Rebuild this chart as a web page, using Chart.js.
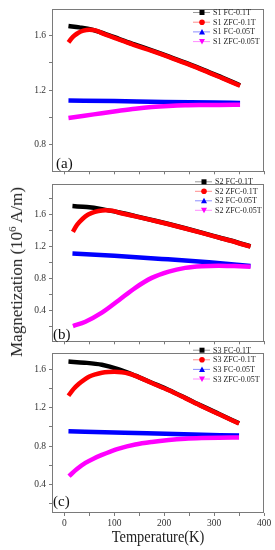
<!DOCTYPE html>
<html>
<head>
<meta charset="utf-8">
<script src="https://cdn.jsdelivr.net/npm/chart.js@4.4.0/dist/chart.umd.min.js"></script>
<style>
html,body{margin:0;padding:0;background:#fff;width:275px;height:550px;overflow:hidden;}
.cv{position:absolute;left:0;width:275px;}
#ytitle{position:absolute;left:17px;top:272px;font-family:"Liberation Serif","Times New Roman",serif;font-size:17px;color:#222;white-space:nowrap;transform:translate(-50%,-50%) rotate(-90deg);}
#ytitle sup{font-size:11px;vertical-align:6px;line-height:0;}
#xtitle{position:absolute;left:158px;top:537px;font-family:"Liberation Serif","Times New Roman",serif;font-size:16px;color:#222;white-space:nowrap;transform:translate(-50%,-50%) scaleX(0.9);}
</style>
</head>
<body>
<div class="cv" style="top:0px;height:180px;"><canvas id="cA" width="275" height="180"></canvas></div>
<div class="cv" style="top:175px;height:175px;"><canvas id="cB" width="275" height="175"></canvas></div>
<div class="cv" style="top:344px;height:206px;"><canvas id="cC" width="275" height="206"></canvas></div>
<div id="ytitle">Magnetization (10<sup>6</sup> A/m)</div>
<div id="xtitle">Temperature(K)</div>
<script>
// ---------- tick labels ----------
const xMajor = [0, 100, 200, 300, 400];
const xMinor = [50, 150, 250, 350];
const yMajorA = [0.8, 1.2, 1.6];
const yMinorA = [1.0, 1.4];
const yMajorB = [0.4, 0.8, 1.2, 1.6];
const yMinorB = [0.2, 0.6, 1.0, 1.4, 1.8];
const yMajorC = [0.4, 0.8, 1.2, 1.6];
const yMinorC = [0.2, 0.6, 1.0, 1.4];

// ---------- series names ----------
const namesA = ["S1 FC-0.1T", "S1 ZFC-0.1T", "S1 FC-0.05T", "S1 ZFC-0.05T"];
const namesB = ["S2 FC-0.1T", "S2 ZFC-0.1T", "S2 FC-0.05T", "S2 ZFC-0.05T"];
const namesC = ["S3 FC-0.1T", "S3 ZFC-0.1T", "S3 FC-0.05T", "S3 ZFC-0.05T"];

// ---------- panel (a) S1 ----------
const tA_fc1  = [8, 30, 55, 80, 110, 140, 175, 210, 245, 280, 315, 352];
const mA_fc1  = [1.672, 1.662, 1.646, 1.616, 1.576, 1.536, 1.493, 1.447, 1.398, 1.347, 1.293, 1.235];
const tA_zfc1 = [8, 14, 20, 28, 38, 50, 62, 80, 110, 140, 175, 210, 245, 280, 315, 352];
const mA_zfc1 = [1.551, 1.580, 1.602, 1.623, 1.638, 1.644, 1.640, 1.612, 1.572, 1.532, 1.489, 1.443, 1.394, 1.343, 1.289, 1.231];
const tA_fc05  = [8, 100, 200, 300, 352];
const mA_fc05  = [1.123, 1.118, 1.112, 1.107, 1.104];
const tA_zfc05 = [8, 40, 75, 110, 142, 175, 209, 242, 275, 310, 352];
const mA_zfc05 = [0.994, 1.010, 1.029, 1.047, 1.062, 1.074, 1.082, 1.087, 1.089, 1.090, 1.091];

// ---------- panel (b) S2 ----------
const tB_fc1  = [16, 45, 75, 110, 142, 175, 209, 242, 275, 310, 345, 373];
const mB_fc1  = [1.700, 1.688, 1.662, 1.620, 1.575, 1.527, 1.476, 1.423, 1.368, 1.308, 1.248, 1.196];
const tB_zfc1 = [17, 23, 30, 42, 55, 68, 82, 96, 110, 142, 175, 209, 242, 275, 310, 345, 373];
const mB_zfc1 = [1.378, 1.445, 1.500, 1.572, 1.615, 1.638, 1.648, 1.641, 1.617, 1.572, 1.524, 1.473, 1.420, 1.365, 1.305, 1.245, 1.193];
const tB_fc05  = [16, 100, 195, 290, 373];
const mB_fc05  = [1.107, 1.078, 1.040, 0.998, 0.952];
const tB_zfc05 = [17, 42, 75, 109, 142, 175, 209, 242, 275, 309, 340, 373];
const mB_zfc05 = [0.200, 0.255, 0.368, 0.524, 0.679, 0.803, 0.882, 0.928, 0.949, 0.955, 0.950, 0.942];

// ---------- panel (c) S3 ----------
const tC_fc1  = [8, 40, 75, 109, 142, 175, 209, 242, 275, 310, 350];
const mC_fc1  = [1.683, 1.672, 1.650, 1.602, 1.536, 1.462, 1.386, 1.304, 1.220, 1.135, 1.038];
const tC_zfc1 = [8, 18, 29, 40, 50, 62, 75, 88, 100, 115, 130, 142, 175, 209, 242, 275, 310, 350];
const mC_zfc1 = [1.326, 1.395, 1.451, 1.495, 1.527, 1.550, 1.567, 1.575, 1.577, 1.572, 1.556, 1.534, 1.459, 1.383, 1.301, 1.217, 1.132, 1.035];
const tC_fc05  = [8, 120, 240, 350];
const mC_fc05  = [0.955, 0.940, 0.924, 0.909];
const tC_zfc05 = [9, 25, 42, 58, 75, 92, 109, 142, 175, 209, 242, 275, 310, 350];
const mC_zfc05 = [0.485, 0.560, 0.624, 0.668, 0.707, 0.742, 0.773, 0.816, 0.843, 0.863, 0.876, 0.883, 0.887, 0.889];

// ---------- styling ----------
const colors = ["#000000", "#ff0000", "#0000ff", "#ff00ff"];
const legendLine = ["#9a9a9a", "#ff8c8c", "#8c8cff", "#ff8cff"];
const markers = ["square", "circle", "triangle", "down"];
const order = [2, 1, 4, 3];
const SERIF = '"Liberation Serif","Times New Roman",serif';
const FRAME = "#7a7a7a";

function pts(t, m) { return t.map((v, i) => ({ x: v, y: m[i] })); }

function near(list, v) { return list.some(u => Math.abs(u - v) < 1e-6); }

const panelPlugin = {
  id: "panelDeco",
  afterDraw(chart) {
    const o = chart.options.plugins.panelDeco;
    const ctx = chart.ctx;
    const a = chart.chartArea;
    ctx.save();
    // frame
    ctx.strokeStyle = FRAME;
    ctx.lineWidth = 1;
    ctx.strokeRect(Math.round(a.left) + 0.5, Math.round(a.top) + 0.5,
                   Math.round(a.right - a.left) - 1, Math.round(a.bottom - a.top) - 1);
    // legend
    ctx.font = "8px " + SERIF;
    ctx.textBaseline = "middle";
    ctx.textAlign = "left";
    o.names.forEach((nm, i) => {
      const y = o.ly + i * o.dy;
      ctx.strokeStyle = legendLine[i];
      ctx.lineWidth = 1;
      ctx.beginPath();
      ctx.moveTo(o.lx, y); ctx.lineTo(o.lx + 17, y); ctx.stroke();
      const mx = o.lx + 9;
      ctx.fillStyle = colors[i];
      ctx.beginPath();
      if (markers[i] === "square") { ctx.rect(mx - 2.5, y - 2.5, 5, 5); }
      else if (markers[i] === "circle") { ctx.arc(mx, y, 2.8, 0, Math.PI * 2); }
      else if (markers[i] === "triangle") { ctx.moveTo(mx, y - 3); ctx.lineTo(mx + 3, y + 2.5); ctx.lineTo(mx - 3, y + 2.5); ctx.closePath(); }
      else { ctx.moveTo(mx, y + 3); ctx.lineTo(mx + 3, y - 2.5); ctx.lineTo(mx - 3, y - 2.5); ctx.closePath(); }
      ctx.fill();
      ctx.fillStyle = "#222";
      ctx.fillText(nm, o.lx + 20, y + 0.5);
    });
    // panel label
    ctx.font = "15px " + SERIF;
    ctx.textBaseline = "alphabetic";
    ctx.fillStyle = "#111";
    ctx.fillText(o.label, o.px, o.py);
    ctx.restore();
  }
};

function makeChart(id, series, names, yMin, yMax, yMajor, yMinor, padTop, xH, showX, deco) {
  const datasets = series.map((s, i) => ({
    label: names[i],
    data: pts(s[0], s[1]),
    borderColor: colors[i],
    backgroundColor: colors[i],
    borderWidth: 4.5,
    pointRadius: 0,
    fill: false,
    cubicInterpolationMode: "monotone",
    order: order[i]
  }));
  return new Chart(document.getElementById(id), {
    type: "line",
    data: { datasets },
    plugins: [panelPlugin],
    options: {
      responsive: false,
      animation: false,
      events: [],
      layout: { padding: { top: padTop, right: 11, left: 0, bottom: 0 } },
      plugins: {
        legend: { display: false },
        tooltip: { enabled: false },
        panelDeco: deco
      },
      scales: {
        x: {
          type: "linear",
          min: -25, max: 400,
          afterBuildTicks(ax) { ax.ticks = xMajor.concat(xMinor).sort((p, q) => p - q).map(v => ({ value: v })); },
          afterFit(ax) { ax.height = xH; },
          grid: { drawOnChartArea: false, drawTicks: true, tickLength: 3, color: FRAME },
          border: { display: false },
          ticks: {
            padding: 2,
            maxRotation: 0,
            autoSkip: false,
            color: "#333",
            font: { family: SERIF, size: 9.5 },
            callback(v) { return (showX && near(xMajor, v)) ? String(v) : ""; }
          }
        },
        y: {
          type: "linear",
          min: yMin, max: yMax,
          afterBuildTicks(ax) { ax.ticks = yMajor.concat(yMinor).sort((p, q) => p - q).map(v => ({ value: v })); },
          afterFit(ax) { ax.width = 52; },
          grid: { drawOnChartArea: false, drawTicks: true, tickLength: 3, color: FRAME },
          border: { display: false },
          ticks: {
            padding: 3,
            autoSkip: false,
            color: "#333",
            font: { family: SERIF, size: 9.5 },
            callback(v) { return near(yMajor, v) ? v.toFixed(1) : ""; }
          }
        }
      }
    }
  });
}

makeChart("cA",
  [[tA_fc1, mA_fc1], [tA_zfc1, mA_zfc1], [tA_fc05, mA_fc05], [tA_zfc05, mA_zfc05]],
  namesA, 0.6, 1.8, yMajorA, yMinorA, 4, 5, false,
  { names: namesA, lx: 193, ly: 12.5, dy: 9.7, label: "(a)", px: 56, py: 168 });

makeChart("cB",
  [[tB_fc1, mB_fc1], [tB_zfc1, mB_zfc1], [tB_fc05, mB_fc05], [tB_zfc05, mB_zfc05]],
  namesB, 0.01, 1.98, yMajorB, yMinorB, 0, 6, false,
  { names: namesB, lx: 195, ly: 6.8, dy: 9.5, label: "(b)", px: 53, py: 164 });

makeChart("cC",
  [[tC_fc1, mC_fc1], [tC_zfc1, mC_zfc1], [tC_fc05, mC_fc05], [tC_zfc05, mC_zfc05]],
  namesC, 0.1, 1.776, yMajorC, yMinorC, 0, 37, true,
  { names: namesC, lx: 193, ly: 6.2, dy: 9.6, label: "(c)", px: 53, py: 162 });
</script>
</body>
</html>
